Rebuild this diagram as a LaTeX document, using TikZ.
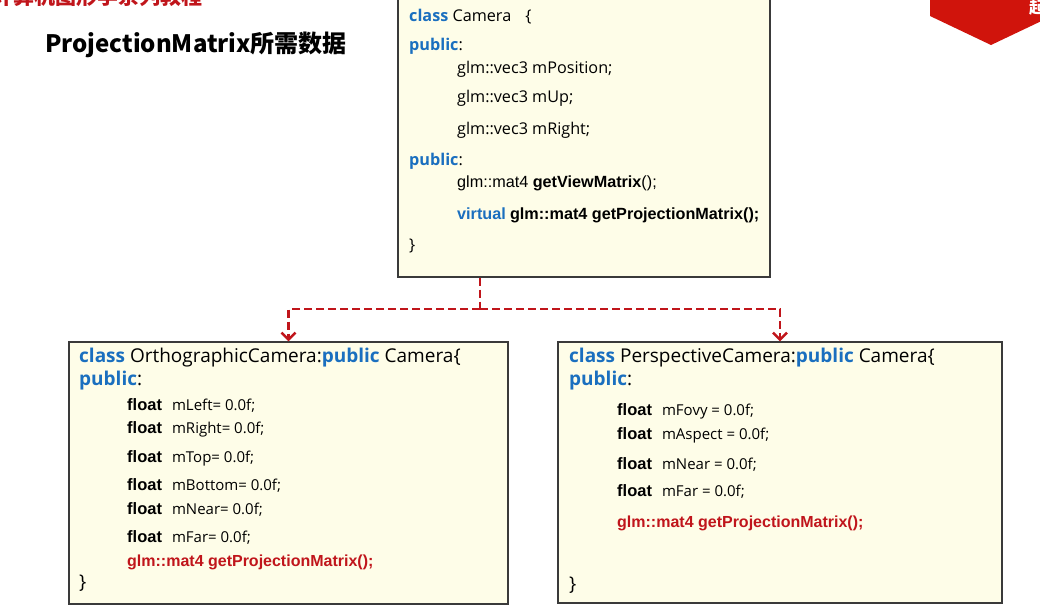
\documentclass[tikz,border=0pt]{standalone}
\usepackage{fontspec}
\usetikzlibrary{arrows.meta}
\setmainfont{Open Sans}
\newfontfamily\ari{Liberation Sans}
\newfontfamily\cjk{Noto Sans CJK SC}
\definecolor{kwblue}{HTML}{1A6FBF}
\definecolor{dred}{HTML}{C0151B}
\definecolor{boxfill}{HTML}{FEFDE8}
\definecolor{boxline}{HTML}{3A3A3A}
\definecolor{banner}{HTML}{D0140C}
\newcommand\kw[1]{\textcolor{kwblue}{\bfseries #1}}
\newcommand\ab[1]{{\ari\bfseries #1}}
\newcommand\fl[1]{{\ari\bfseries\fontsize{16.5}{18}\selectfont float}\hspace{10pt}#1}
\tikzset{
  box/.style={draw=boxline, fill=boxfill, line width=1.4pt, inner sep=0pt},
  code/.style={anchor=west, inner sep=0pt, text=black, font=\fontsize{16.2}{18}\selectfont},
  mem/.style={code, font=\fontsize{15}{18}\selectfont},
  redcode/.style={code, font=\fontsize{16}{18}\selectfont},
  bigcode/.style={code, font=\fontsize{19}{21}\selectfont},
  conn/.style={draw=dred, line width=2.7pt, dash pattern=on 8pt off 4pt},
  tip/.style={-{Straight Barb[length=7pt,width=14pt,line width=2.5pt]}}
}
\begin{document}
\begin{tikzpicture}[x=1pt,y=-1pt]
\useasboundingbox (0,0) rectangle (1040,611);
\begin{scope}
  \clip (0,0) rectangle (1040,611);
  \fill[banner] (930,-5) -- (930,16) -- (991,45) -- (1052,16) -- (1052,-5) -- cycle;
  \node[anchor=west, inner sep=0pt, text=white, font=\cjk\bfseries\fontsize{16}{16}\selectfont] (qi) at (1029,8) {起};
  \node[anchor=west, inner sep=0pt, text=dred, font=\cjk\bfseries\fontsize{21}{21}\selectfont] (series) at (-8,-3) {计算机图形学系列教程};
  \node[box, minimum width=372pt, minimum height=282pt] (camera) at (584,136) {};
\end{scope}
\node[anchor=west, inner sep=0pt, font=\cjk\bfseries\fontsize{24}{24}\selectfont] (title) at (45,45) {ProjectionMatrix所需数据};

% Camera box
\node[code] (c1) at (409,17) {\kw{class} Camera\hspace{14pt}\{};
\node[code] (c2) at (409,46) {\kw{public}:};
\node[code] (c3) at (457,69) {glm::vec3 mPosition;};
\node[code] (c4) at (457,98) {glm::vec3 mUp;};
\node[code] (c5) at (457,130) {glm::vec3 mRight;};
\node[code] (c6) at (409,161) {\kw{public}:};
\node[code] (c7) at (457,183) {{\ari glm::mat4 {\bfseries getViewMatrix}();}};
\node[code] (c8) at (457,215) {\textcolor{kwblue}{\ab{virtual}} \ab{glm::mat4 getProjectionMatrix();}};
\node[code] (c9) at (409,246) {\}};

% Orthographic box
\node[box, minimum width=439pt, minimum height=262pt] (ortho) at (288.5,473) {};
\node[bigcode] (o1) at (79,358) {\kw{class} OrthographicCamera:\kw{public} Camera\{};
\node[bigcode] (o2) at (79,381) {\kw{public}:};
\node[mem] (o3) at (127,405) {\fl{mLeft= 0.0f;}};
\node[mem] (o4) at (127,429) {\fl{mRight= 0.0f;}};
\node[mem] (o5) at (127,458) {\fl{mTop= 0.0f;}};
\node[mem] (o6) at (127,485) {\fl{mBottom= 0.0f;}};
\node[mem] (o7) at (127,509) {\fl{mNear= 0.0f;}};
\node[mem] (o8) at (127,537) {\fl{mFar= 0.0f;}};
\node[redcode] (o9) at (127,562) {\textcolor{dred}{\ab{glm::mat4 getProjectionMatrix();}}};
\node[bigcode] (o10) at (79,583) {\}};

% Perspective box
\node[box, minimum width=444pt, minimum height=261pt] (persp) at (780,472.5) {};
\node[bigcode] (p1) at (569,358) {\kw{class} PerspectiveCamera:\kw{public} Camera\{};
\node[bigcode] (p2) at (569,381) {\kw{public}:};
\node[mem] (p3) at (617,411) {\fl{mFovy = 0.0f;}};
\node[mem] (p4) at (617,435) {\fl{mAspect = 0.0f;}};
\node[mem] (p5) at (617,464) {\fl{mNear = 0.0f;}};
\node[mem] (p6) at (617,491) {\fl{mFar = 0.0f;}};
\node[redcode] (p7) at (617,523) {\textcolor{dred}{\ab{glm::mat4 getProjectionMatrix();}}};
\node[bigcode] (p8) at (569,585) {\}};

% connectors
\coordinate (split) at (480,309);
\draw[conn] (camera.south -| split) -- (split);
\draw[conn, tip] (split) -| (ortho.north);
\draw[conn, tip] (split) -| (persp.north);
\end{tikzpicture}
\end{document}
